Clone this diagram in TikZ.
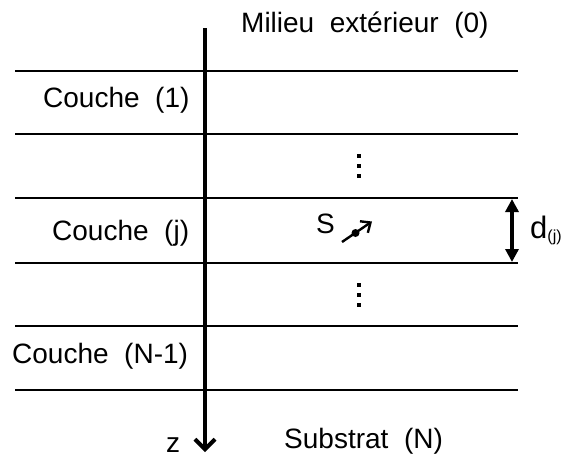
\documentclass[tikz,border=0pt]{standalone}
\usepackage{fontspec}
\setmainfont{Liberation Sans}
\usetikzlibrary{arrows.meta}
\begin{document}
\begin{tikzpicture}[x=1pt,y=-1pt,
  txt/.style={font=\fontsize{28}{32}\selectfont, inner sep=0pt, anchor=base west},
  layer/.style={line width=2.2pt},
  axis/.style={line width=4pt, -{Straight Barb[length=10pt,width=20pt,line width=4pt]}},
  thick arrow/.style={line width=3.6pt, {Triangle[length=13pt,width=13pt]}-{Triangle[length=13pt,width=13pt]}},
  vdot/.style={fill=black, minimum size=4.5pt, inner sep=0pt, draw=none, rectangle},
  sarrow/.style={line width=2.4pt, -{Straight Barb[length=8pt,width=14pt,line width=2.4pt]}}]
\useasboundingbox (0,0) rectangle (565,461);
% layer lines
\foreach \i/\y in {1/71,2/134,3/198,4/263,5/326,6/390}{
  \coordinate (L\i) at (15,\y);
  \coordinate (R\i) at (518,\y);
  \draw[layer] (L\i) -- (R\i);
}
% z axis
\coordinate (ztop) at (205,28);
\coordinate (zbot) at (205,452);
\draw[axis] (ztop) -- (zbot);
% thickness arrow
\coordinate (dtop) at (512,199);
\coordinate (dbot) at (512,262);
\draw[thick arrow] (dtop) -- (dbot);
% texts
\node[txt] (milieu) at (241,32) {Milieu\ \ extérieur\ \ (0)};
\node[txt] (c1) at (43,107) {Couche\ \ (1)};
\node[txt] (cj) at (52,240) {Couche\ \ (j)};
\node[txt] (cn) at (12,363) {Couche\ \ (N-1)};
\node[txt] (sub) at (284,448) {Substrat\ \ (N)};
\node[txt] (z) at (166,452) {z};
\node[txt] (S) at (316,233) {S};
\node[txt, font=\fontsize{31}{34}\selectfont] (d) at (530,238) {d\raisebox{-3pt}{\fontsize{16}{18}\selectfont(j)}};
% dots
\foreach \y [count=\k] in {156,166,176}{\node[vdot] (da\k) at (359,\y) {};}
\foreach \y [count=\k] in {285,295,305}{\node[vdot] (db\k) at (359,\y) {};}
% source S
\coordinate (s0) at (342,242);
\coordinate (s1) at (372,221.5);
\draw[sarrow] (s0) -- (s1);
\node[circle, fill=black, inner sep=0pt, minimum size=8pt] (sdot) at (355.5,233) {};
\end{tikzpicture}
\end{document}
